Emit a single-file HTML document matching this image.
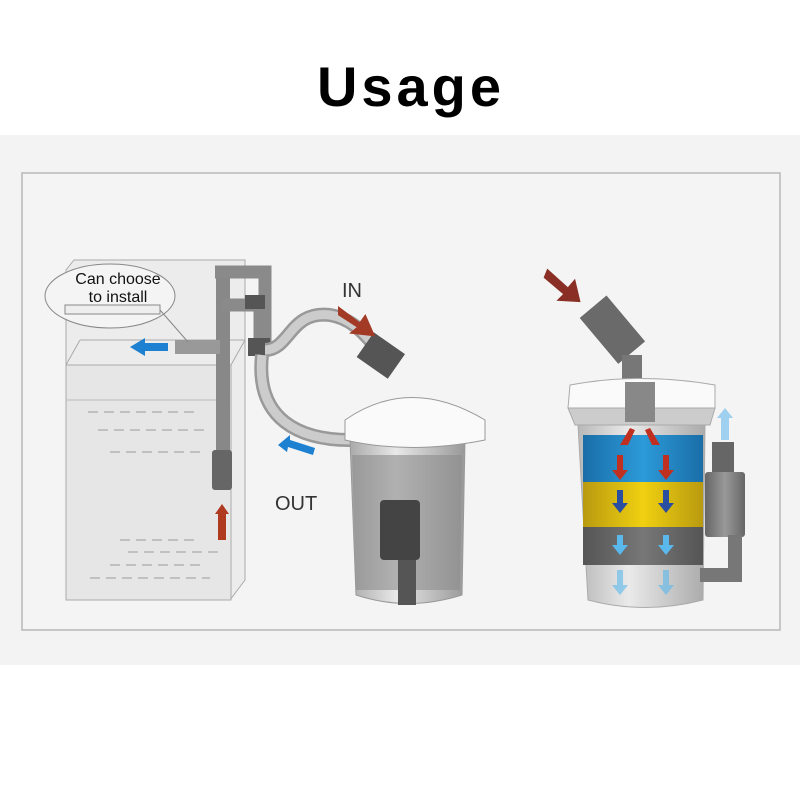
<!DOCTYPE html>
<html><head><style>
body{margin:0;width:800px;height:800px;background:#fff;overflow:hidden;font-family:"Liberation Sans",sans-serif}
</style></head><body>
<svg width="800" height="800" viewBox="0 0 800 800" xmlns="http://www.w3.org/2000/svg">
<defs>
<linearGradient id="cyl" x1="0" x2="1"><stop offset="0" stop-color="#aaa"/><stop offset=".4" stop-color="#e8e8e8"/><stop offset="1" stop-color="#999"/></linearGradient>
<linearGradient id="blue" x1="0" x2="1"><stop offset="0" stop-color="#1a6ea8"/><stop offset=".5" stop-color="#2c9ad8"/><stop offset="1" stop-color="#1a6ea8"/></linearGradient>
<linearGradient id="yel" x1="0" x2="1"><stop offset="0" stop-color="#b89a10"/><stop offset=".5" stop-color="#f0d010"/><stop offset="1" stop-color="#b89a10"/></linearGradient>
<linearGradient id="dk" x1="0" x2="1"><stop offset="0" stop-color="#555"/><stop offset=".5" stop-color="#777"/><stop offset="1" stop-color="#555"/></linearGradient>
<linearGradient id="pump" x1="0" x2="1"><stop offset="0" stop-color="#666"/><stop offset=".5" stop-color="#999"/><stop offset="1" stop-color="#666"/></linearGradient>
</defs>
<text x="411" y="106" text-anchor="middle" font-size="56" font-weight="bold" letter-spacing="4" font-family="Liberation Sans, sans-serif" fill="#000">Usage</text>
<rect x="0" y="135" width="800" height="530" fill="#f3f3f3"/>
<rect x="22" y="173" width="758" height="457" fill="#f4f4f4" stroke="#b8b8b8" stroke-width="1.5"/>
<!-- tank -->
<polygon points="74,260 245,260 245,580 230,600 66,600 66,270" fill="#ececec" stroke="#aaa"/>
<rect x="66" y="365" width="165" height="235" fill="#e6e6e6" stroke="#aaa"/>
<line x1="66" y1="365" x2="80" y2="340" stroke="#aaa"/>
<line x1="231" y1="365" x2="245" y2="340" stroke="#aaa"/>
<line x1="80" y1="340" x2="245" y2="340" stroke="#aaa"/>
<line x1="66" y1="400" x2="231" y2="400" stroke="#bbb"/>
<g stroke="#999" stroke-dasharray="10,6">
<line x1="88" y1="412" x2="200" y2="412"/><line x1="98" y1="430" x2="210" y2="430"/><line x1="110" y1="452" x2="200" y2="452"/>
<line x1="120" y1="540" x2="200" y2="540"/><line x1="128" y1="552" x2="218" y2="552"/><line x1="110" y1="565" x2="200" y2="565"/><line x1="90" y1="578" x2="210" y2="578"/>
</g>
<!-- pipes on tank -->
<rect x="216" y="270" width="14" height="220" fill="#888"/>
<rect x="212" y="450" width="20" height="40" fill="#666" rx="3"/>
<path d="M215 272 h50 v70" fill="none" stroke="#8a8a8a" stroke-width="13"/>
<path d="M222 305 h38 v40" fill="none" stroke="#8a8a8a" stroke-width="13"/>
<rect x="175" y="340" width="45" height="14" fill="#999"/>
<rect x="245" y="295" width="20" height="14" fill="#555"/>
<rect x="248" y="338" width="22" height="18" fill="#555"/>
<!-- callout -->
<ellipse cx="110" cy="296" rx="65" ry="32" fill="#f4f4f4" stroke="#888"/>
<line x1="160" y1="310" x2="188" y2="342" stroke="#888"/>
<rect x="65" y="305" width="95" height="9" fill="#eee" stroke="#888"/>
<text x="118" y="284" text-anchor="middle" font-size="16" fill="#111">Can choose</text>
<text x="118" y="302" text-anchor="middle" font-size="16" fill="#111">to install</text>
<polygon points="130,347 145,338 145,343 168,343 168,351 145,351 145,356" fill="#1e80d0"/>
<polygon points="215,514 222,504 229,514 226,514 226,540 218,540 218,514" fill="#b03a20"/>
<!-- hoses -->
<path d="M265 350 C290 350 290 310 330 315 C360 320 370 345 385 355" fill="none" stroke="#999" stroke-width="14"/>
<path d="M265 350 C290 350 290 310 330 315 C360 320 370 345 385 355" fill="none" stroke="#ccc" stroke-width="9"/>
<path d="M262 355 C255 420 300 440 350 440 C400 440 410 470 410 500" fill="none" stroke="#999" stroke-width="14"/>
<path d="M262 355 C255 420 300 440 350 440 C400 440 410 470 410 500" fill="none" stroke="#ccc" stroke-width="9"/>
<!-- middle filter -->
<path d="M350 440 L465 440 L462 595 Q408 612 356 595 Z" fill="url(#cyl)" stroke="#999"/>
<path d="M352 455 L462 455 L460 590 L356 590 Z" fill="#8c8c8c" opacity=".6"/>
<path d="M345 420 Q410 375 485 420 L485 440 Q410 455 345 440 Z" fill="#fafafa" stroke="#999"/>
<rect x="380" y="500" width="40" height="60" rx="4" fill="#444"/>
<rect x="398" y="560" width="18" height="45" fill="#555"/>
<rect x="362" y="340" width="38" height="30" fill="#555" transform="rotate(35 380 355)"/>
<text x="342" y="297" font-size="20" fill="#333">IN</text>
<polygon points="340,310 360,325 365,318 372,334 354,332 360,327 340,314" fill="#a33a25" stroke="#a33a25" stroke-width="4"/>
<polygon points="278,445 290,435 290,440 315,448 313,455 288,447 287,452" fill="#1e80d0"/>
<text x="275" y="510" font-size="20" fill="#333">OUT</text>
<!-- right filter -->
<polygon points="548,272 568,290 574,283 578,300 561,299 566,294 546,277" fill="#8a2f25" stroke="#8a2f25" stroke-width="4"/>
<rect x="595" y="300" width="35" height="60" fill="#6a6a6a" transform="rotate(-40 612 330)"/>
<rect x="622" y="355" width="20" height="30" fill="#777"/>
<path d="M578 425 L705 425 L703 600 Q645 615 588 600 Z" fill="url(#cyl)" stroke="#999" opacity=".8"/>
<rect x="583" y="435" width="120" height="47" fill="url(#blue)"/>
<rect x="583" y="482" width="120" height="45" fill="url(#yel)"/>
<rect x="583" y="527" width="120" height="38" fill="url(#dk)"/>
<path d="M570 385 Q640 372 715 385 L715 408 L568 408 Z" fill="#fafafa" stroke="#aaa"/>
<path d="M568 408 L715 408 L710 425 L575 425 Z" fill="#ccc" stroke="#aaa"/>
<rect x="625" y="382" width="30" height="40" fill="#888"/>
<rect x="705" y="472" width="40" height="65" rx="3" fill="url(#pump)"/>
<rect x="712" y="442" width="22" height="30" fill="#666"/>
<path d="M700 575 h35 v-40" fill="none" stroke="#777" stroke-width="14"/>
<polygon points="725,408 733,418 729,418 729,440 721,440 721,418 717,418" fill="#9fd0f0"/>
<g fill="#c03020">
<polygon points="620,445 628,445 635,430 630,428"/><polygon points="660,445 652,445 645,430 650,428"/>
<polygon points="612,470 628,470 620,480"/><polygon points="658,470 674,470 666,480"/>
<rect x="617" y="455" width="6" height="15"/><rect x="663" y="455" width="6" height="15"/>
</g>
<g fill="#2a4fa0">
<polygon points="612,503 628,503 620,513"/><polygon points="658,503 674,503 666,513"/>
<rect x="617" y="490" width="6" height="13"/><rect x="663" y="490" width="6" height="13"/>
</g>
<g fill="#5ab8ec">
<polygon points="612,545 628,545 620,555"/><polygon points="658,545 674,545 666,555"/>
<rect x="617" y="535" width="6" height="10"/><rect x="663" y="535" width="6" height="10"/>
<polygon points="612,585 628,585 620,595" opacity=".6"/><polygon points="658,585 674,585 666,595" opacity=".6"/>
<rect x="617" y="570" width="6" height="15" opacity=".6"/><rect x="663" y="570" width="6" height="15" opacity=".6"/>
</g>
</svg>
</body></html>
